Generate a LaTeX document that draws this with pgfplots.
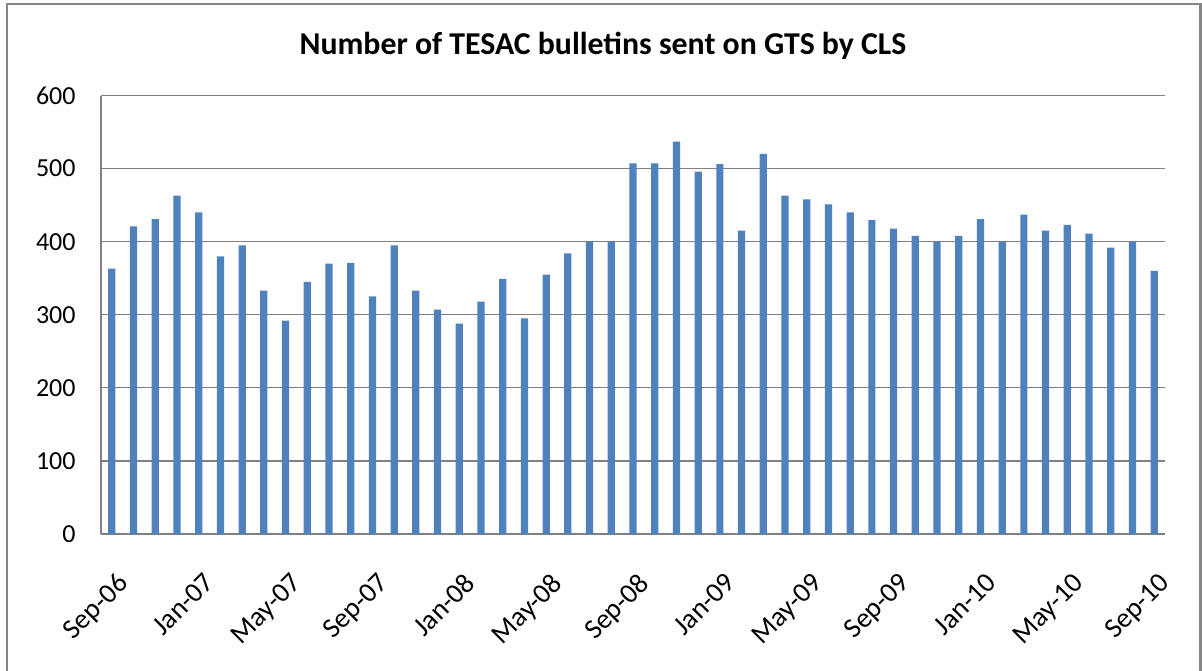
\documentclass[border=0pt]{standalone}
\usepackage{fontspec}
\setmainfont{Carlito}
\usepackage{pgfplots}
\usepackage{pgfplotstable}
\pgfplotsset{compat=1.18}
\definecolor{barblue}{RGB}{79,129,189}
\definecolor{framegray}{RGB}{134,134,134}
\pgfplotstableread{
idx val
0 363
1 421
2 431
3 463
4 440
5 380
6 395
7 333
8 292
9 345
10 370
11 371
12 325
13 395
14 333
15 307
16 288
17 318
18 349
19 295
20 355
21 384
22 400
23 400
24 507
25 507
26 537
27 496
28 506
29 415
30 520
31 463
32 458
33 451
34 440
35 430
36 418
37 408
38 400
39 408
40 431
41 400
42 437
43 415
44 423
45 411
46 392
47 400
48 360
}\datatable
\begin{document}
\begin{tikzpicture}
\useasboundingbox (0,0) rectangle (601pt,335pt);
\draw[framegray, line width=1.2pt] (3.5pt,-5pt) -- (3.5pt,333pt) -- (600.3pt,333pt) -- (600.3pt,-5pt);
\node[anchor=base, font=\fontsize{15.9}{18}\selectfont\bfseries] at (301.5pt,307.5pt) {Number of TESAC bulletins sent on GTS by CLS};
\begin{axis}[
  at={(50.5pt,68pt)}, anchor=south west,
  scale only axis, width=532pt, height=219.25pt,
  xmin=-0.5, xmax=48.5, ymin=0, ymax=600,
  enlargelimits=false,
  axis x line*=bottom, axis y line*=left,
  axis line style={draw=gray, line width=0.6pt, -},
  ymajorgrids, grid style={draw=gray, line width=0.6pt},
  ytick={0,100,...,600},
  xtick={0,4,...,48},
  xticklabels={Sep-06,Jan-07,May-07,Sep-07,Jan-08,May-08,Sep-08,Jan-09,May-09,Sep-09,Jan-10,May-10,Sep-10},
  major tick length=0pt,
  tick style={draw=none},
  /pgf/number format/assume math mode=true,
  yticklabel style={font=\fontsize{13}{15}\selectfont, anchor=east, inner sep=0pt, xshift=-12.5pt},
  xticklabel style={font=\fontsize{14}{16}\selectfont, inner sep=0pt, anchor=north east, xshift=2pt, yshift=-18.5pt, rotate=45},
]
\addplot[ybar, bar width=0.333, fill=barblue, draw=none] table[x=idx, y=val] {\datatable};
\end{axis}
\end{tikzpicture}
\end{document}
